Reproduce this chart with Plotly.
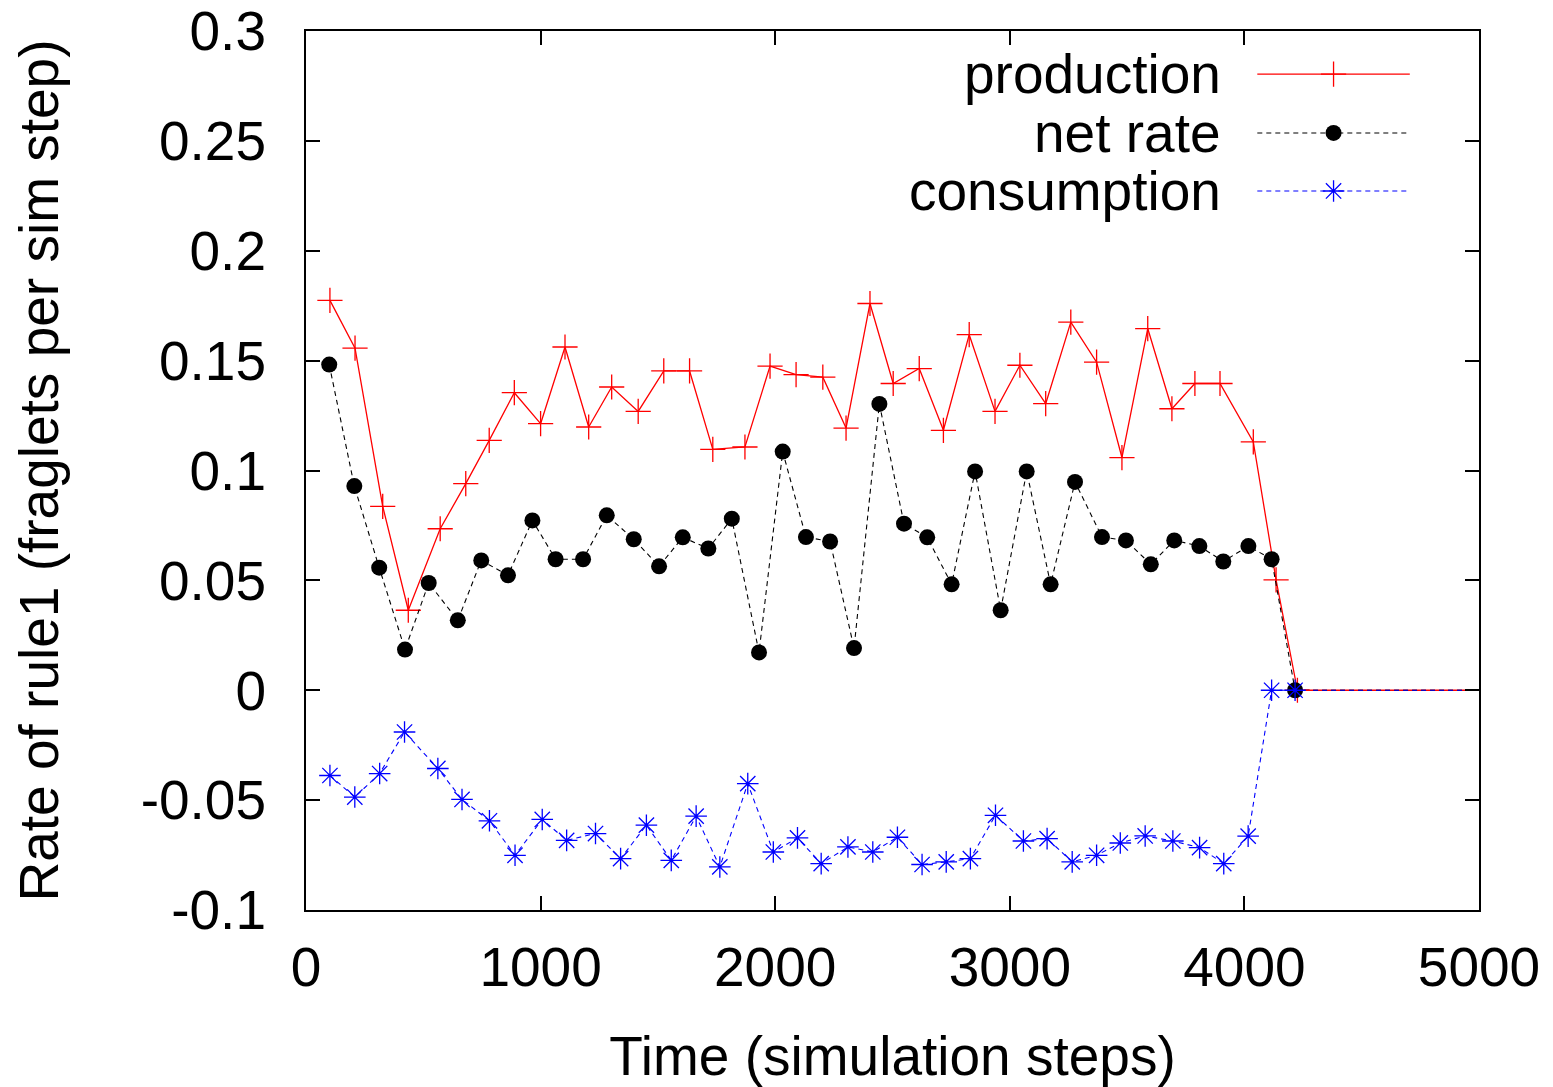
import plotly.graph_objects as go

# ---- data ----
prod_x = [102, 209, 327, 436, 572, 681, 781, 888, 1000, 1104, 1205, 1303, 1416, 1525, 1635,
          1734, 1871, 1978, 2089, 2203, 2302, 2404, 2503, 2614, 2717, 2827, 2937, 3043, 3153,
          3260, 3370, 3478, 3588, 3691, 3789, 3896, 4038, 4135, 4226]
prod_y = [0.1774, 0.1557, 0.0837, 0.0364, 0.0735, 0.0940, 0.1137, 0.1354, 0.1213, 0.1562,
          0.1198, 0.1380, 0.1269, 0.1453, 0.1453, 0.1096, 0.1107, 0.1475, 0.1436, 0.1425,
          0.1193, 0.1760, 0.1396, 0.1464, 0.1183, 0.1618, 0.1269, 0.1479, 0.1304, 0.1675,
          0.1493, 0.1059, 0.1646, 0.1281, 0.1396, 0.1396, 0.1130, 0.0502, 0.0]

net_x = [99, 206, 312, 422, 523, 647, 747, 861, 965, 1064, 1181, 1282, 1397, 1505, 1606,
         1715, 1815, 1931, 2032, 2131, 2234, 2336, 2444, 2549, 2648, 2752, 2852, 2961, 3072,
         3174, 3278, 3393, 3495, 3601, 3701, 3808, 3910, 4017, 4116, 4216]
net_y = [0.1482, 0.0929, 0.0558, 0.0185, 0.0488, 0.0318, 0.0591, 0.0523, 0.0773, 0.0596,
         0.0596, 0.0796, 0.0687, 0.0564, 0.0696, 0.0645, 0.0781, 0.0172, 0.1086, 0.0697,
         0.0677, 0.0192, 0.1303, 0.0758, 0.0696, 0.0482, 0.0996, 0.0364, 0.0996, 0.0482,
         0.0948, 0.0697, 0.0682, 0.0573, 0.0682, 0.0656, 0.0586, 0.0656, 0.0596, 0.0]

cons_x = [102, 208, 314, 420, 562, 665, 782, 891, 1007, 1111, 1234, 1341, 1451, 1557, 1663,
          1764, 1883, 1992, 2095, 2196, 2310, 2416, 2521, 2626, 2729, 2832, 2939, 3058, 3159,
          3266, 3370, 3471, 3577, 3695, 3809, 3912, 4016, 4116, 4216]
cons_y = [-0.0388, -0.0486, -0.0379, -0.0190, -0.0356, -0.0497, -0.0594, -0.0751, -0.0588,
          -0.0683, -0.0652, -0.0766, -0.0614, -0.0774, -0.0573, -0.0804, -0.0425, -0.0736,
          -0.0672, -0.0789, -0.0713, -0.0736, -0.0669, -0.0793, -0.0781, -0.0766, -0.0569,
          -0.0686, -0.0675, -0.0781, -0.0751, -0.0695, -0.0663, -0.0686, -0.0716, -0.0789,
          -0.0664, 0.0, 0.0]

x_end = 5000  # series stay at zero up to the end of the run
x_ticks = [0, 1000, 2000, 3000, 4000, 5000]
y_ticks = [-0.1, -0.05, 0, 0.05, 0.1, 0.15, 0.2, 0.25, 0.3]
y_tick_labels = ["-0.1", "-0.05", "0", "0.05", "0.1", "0.15", "0.2", "0.25", "0.3"]
names = ["production", "net rate", "consumption"]

FONT = "Liberation Sans, Arial, Helvetica, sans-serif"
FS = 55

series = [
    dict(x=prod_x, y=prod_y, color="#ff0000", dash="solid", width=1.3,
         marker=dict(symbol="cross-thin", size=18, color="#ff0000",
                     line=dict(color="#ff0000", width=1.3))),
    dict(x=net_x, y=net_y, color="#000000", dash="5px,4px", width=1.1,
         marker=dict(symbol="circle", size=16, color="#000000", line=dict(width=0))),
    dict(x=cons_x, y=cons_y, color="#0000ff", dash="5px,4px", width=1.1,
         marker=dict(symbol="asterisk-open", size=18, color="#0000ff",
                     line=dict(color="#0000ff", width=1.3))),
]

fig = go.Figure()

for s in series:
    # zero tail up to end of run
    fig.add_trace(go.Scatter(x=[s["x"][-1], x_end], y=[s["y"][-1], 0], mode="lines",
                             line=dict(color=s["color"], width=s["width"], dash=s["dash"]),
                             showlegend=False, hoverinfo="skip"))
for s, n in zip(series, names):
    fig.add_trace(go.Scatter(x=s["x"], y=s["y"], mode="lines+markers", name=n,
                             line=dict(color=s["color"], width=s["width"], dash=s["dash"]),
                             marker=s["marker"], showlegend=False))

# ---- manual legend (text to the left of sample, gnuplot style) ----
leg_x0, leg_xm, leg_x1 = 0.811, 0.876, 0.941
leg_rows = [0.951, 0.884, 0.818]
for s, n, ry in zip(series, names, leg_rows):
    fig.add_trace(go.Scatter(x=[leg_x0, leg_x1], y=[ry, ry], mode="lines", xaxis="x2", yaxis="y2",
                             line=dict(color=s["color"], width=s["width"], dash=s["dash"]),
                             showlegend=False, hoverinfo="skip"))
    fig.add_trace(go.Scatter(x=[leg_xm], y=[ry], mode="markers", xaxis="x2", yaxis="y2",
                             marker=s["marker"], showlegend=False, hoverinfo="skip"))
    fig.add_annotation(x=0.782, y=ry, xref="x2", yref="y2", text=n, showarrow=False,
                       xanchor="right", yanchor="middle", font=dict(family=FONT, size=FS, color="black"))

axis_common = dict(showgrid=False, zeroline=False, showline=True, linecolor="black", linewidth=2,
                   mirror="allticks", ticks="inside", ticklen=14, tickwidth=2, tickcolor="black",
                   automargin=False, ticklabeloverflow="allow",
                   tickfont=dict(family=FONT, size=FS, color="black"))

# page body has an 8px default margin, so the figure is drawn 8px in from the corner
fig.update_layout(
    width=1545, height=1079,
    margin=dict(l=298, r=74, t=23, b=177, pad=0),
    paper_bgcolor="white", plot_bgcolor="white",
    showlegend=False,
    xaxis=dict(range=[0, 5000], tickvals=x_ticks, ticktext=[str(v) for v in x_ticks],
               ticklabelstandoff=8,
               title=dict(text="Time (simulation steps)", font=dict(family=FONT, size=FS, color="black"),
                          standoff=40),
               **axis_common),
    yaxis=dict(range=[-0.1, 0.3], tickvals=y_ticks, ticktext=y_tick_labels,
               ticklabelstandoff=27,
               title=dict(text="Rate of rule1 (fraglets per sim step)",
                          font=dict(family=FONT, size=FS, color="black"), standoff=67),
               **axis_common),
    xaxis2=dict(range=[0, 1], overlaying="x", visible=False, domain=[0, 1]),
    yaxis2=dict(range=[0, 1], overlaying="y", visible=False, domain=[0, 1]),
)

fig.write_html("out.html")
